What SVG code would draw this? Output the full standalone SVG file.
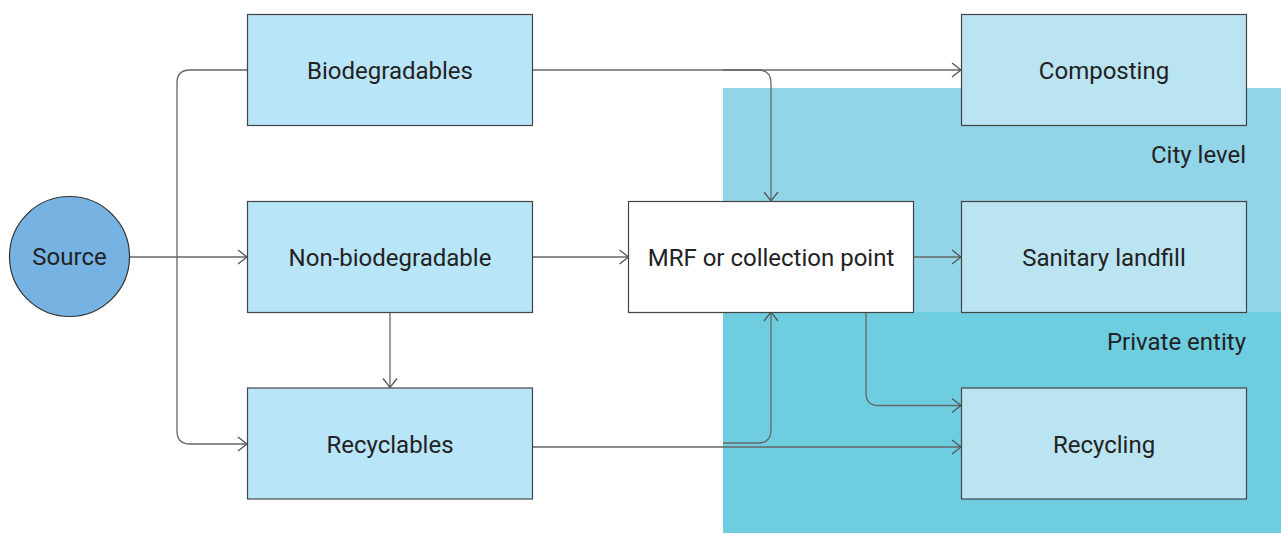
<svg xmlns="http://www.w3.org/2000/svg" width="1281" height="533" viewBox="0 0 1281 533">
<style>
text{font-family:Roboto,"Liberation Sans",sans-serif;font-size:24px;fill:#222;}
.c{text-anchor:middle;}
.r{text-anchor:end;}
.box{stroke:#444;stroke-width:1.2;}
.left{fill:#B9E5F9;}
.right{fill:#BAE4F1;}
.conn path{fill:none;stroke:#666;stroke-width:1.3;}
</style>
<defs>
<marker id="arr" markerUnits="userSpaceOnUse" markerWidth="20" markerHeight="20" viewBox="-12 -10 14 20" refX="0" refY="0" orient="auto">
<path d="M-9,-7 L0,0 L-9,7" fill="none" stroke="#555" stroke-width="1.3"/>
</marker>
</defs>
<rect width="1281" height="533" fill="#fff"/>
<g id="zone-city"><rect x="723" y="88" width="558" height="224" fill="#92D5E8"/><text class="r" x="1246" y="163">City level</text></g>
<g id="zone-private"><rect x="723" y="312" width="558" height="221" fill="#6FCDE0"/><text class="r" x="1246" y="350">Private entity</text></g>
<g class="conn" id="connectors">
<path d="M129,257 H247" marker-end="url(#arr)"/>
<path d="M247,70 H190 Q177,70 177,83 V431 Q177,444 190,444 H247" marker-end="url(#arr)"/>
<path d="M390,312 V387.5" marker-end="url(#arr)"/>
<path d="M532,70 H961" marker-end="url(#arr)"/>
<path d="M723,70 H758 Q771,70 771,83 V201" marker-end="url(#arr)"/>
<path d="M532,257 H628.5" marker-end="url(#arr)"/>
<path d="M913.5,257 H961" marker-end="url(#arr)"/>
<path d="M866,312 V393 Q866,405.5 878.5,405.5 H961" marker-end="url(#arr)"/>
<path d="M532,447 H961" marker-end="url(#arr)"/>
<path d="M723,443 H758 Q771,443 771,430 V312" marker-end="url(#arr)"/>
</g>
<g id="source"><circle cx="69.5" cy="256.5" r="60" fill="#76B3E2" stroke="#333" stroke-width="1.2"/><text class="c" x="69.5" y="265">Source</text></g>
<g id="biodegradables"><rect class="box left" x="247.5" y="14.5" width="285" height="111"/><text class="c" x="390" y="79">Biodegradables</text></g>
<g id="non-biodegradable"><rect class="box left" x="247.5" y="201.5" width="285" height="111"/><text class="c" x="390" y="266">Non-biodegradable</text></g>
<g id="recyclables"><rect class="box left" x="247.5" y="388" width="285" height="111"/><text class="c" x="390" y="453">Recyclables</text></g>
<g id="mrf"><rect class="box" x="628.5" y="201.5" width="285" height="111" fill="#fff"/><text class="c" x="771" y="266">MRF or collection point</text></g>
<g id="composting"><rect class="box right" x="961.5" y="14.5" width="285" height="111"/><text class="c" x="1104" y="79">Composting</text></g>
<g id="sanitary-landfill"><rect class="box right" x="961.5" y="201.5" width="285" height="111"/><text class="c" x="1104" y="266">Sanitary landfill</text></g>
<g id="recycling"><rect class="box right" x="961.5" y="388" width="285" height="111"/><text class="c" x="1104" y="453">Recycling</text></g>
</svg>
